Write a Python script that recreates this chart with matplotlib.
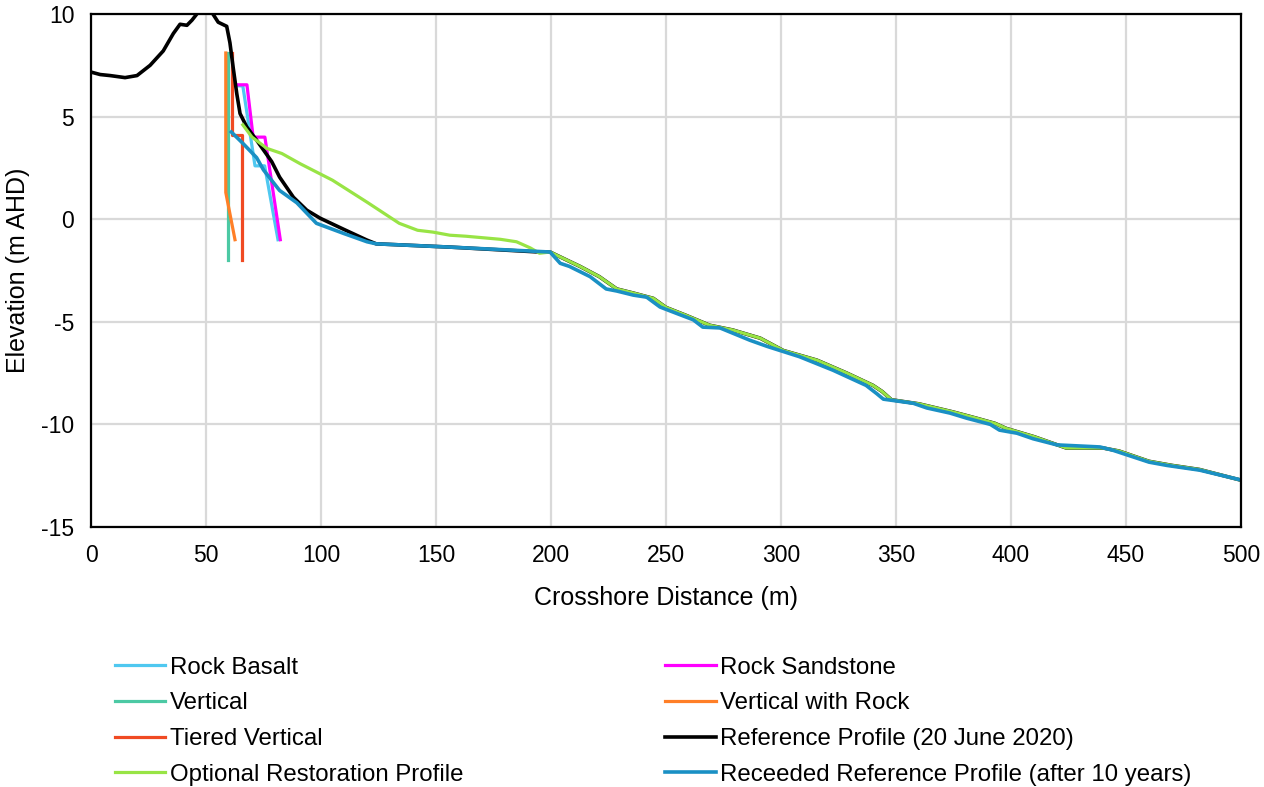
import matplotlib

matplotlib.use("Agg")
import matplotlib.pyplot as plt

plt.rcParams["font.family"] = ["Liberation Sans", "DejaVu Sans"]
plt.rcParams["axes.unicode_minus"] = False

# ---------- Profile data (crosshore distance m, elevation m AHD) ----------
basalt_x = [63.5, 66.0, 71.3, 75.5, 81.3]
basalt_y = [6.5, 6.5, 2.6, 2.6, -1.0]

sandstone_x = [63.4, 67.8, 70.5, 75.6, 82.3]
sandstone_y = [6.55, 6.55, 4.0, 4.0, -1.0]

vertical_x = [59.4, 59.4]
vertical_y = [8.1, -2.0]

vert_rock_x = [58.6, 58.6, 62.6]
vert_rock_y = [8.1, 1.3, -1.0]

tiered_x = [61.3, 61.3, 65.5, 65.5]
tiered_y = [8.1, 4.1, 4.1, -2.0]

# Reference profile (20 June 2020), onshore part
reference_x = [0, 4, 8.3, 14.8, 20, 25.7, 31.4, 35.8, 38.7, 41.7, 43.9, 46, 48, 50, 52,
               53, 55.3, 59, 60.4, 61.8, 63.4, 64.8, 67.7, 72, 78.6, 82, 88, 93.8,
               99.6, 110, 120, 124, 156, 195]
reference_y = [7.17, 7.05, 7.0, 6.9, 7.0, 7.5, 8.2, 9.05, 9.5, 9.45, 9.7, 10.0, 10.4, 10.6, 10.3,
               10.0, 9.6, 9.4, 8.6, 7.4, 6.1, 5.15, 4.5, 3.85, 2.8, 2.05, 1.07, 0.44,
               0.05, -0.5, -1.02, -1.2, -1.36, -1.6]

# Optional restoration profile, onshore part
optional_x = [66, 70, 76.5, 83, 91, 98, 105, 120, 134, 142, 148.7, 156, 163, 178, 185, 191, 195]
optional_y = [4.6, 4.0, 3.45, 3.2, 2.7, 2.3, 1.9, 0.83, -0.2, -0.54, -0.63, -0.78, -0.83,
              -0.98, -1.1, -1.4, -1.66]

# Offshore part shared by the reference and optional restoration profiles
offshore_x = [199.6, 207, 212.6, 221, 228.6, 235.8, 244.5, 250, 259, 269, 279, 291, 301,
              315.6, 328.6, 340, 344, 348, 360, 375, 385, 393, 398, 410, 424, 440, 447,
              460, 470, 482, 500]
offshore_y = [-1.6, -2.0, -2.3, -2.8, -3.4, -3.6, -3.86, -4.3, -4.7, -5.17, -5.4, -5.8, -6.4,
              -6.87, -7.5, -8.1, -8.4, -8.8, -9.0, -9.4, -9.7, -9.95, -10.2, -10.6, -11.15,
              -11.15, -11.3, -11.8, -12.0, -12.2, -12.72]

# Receeded reference profile (after 10 years)
receeded_x = [61, 66, 72, 75, 82, 89.5, 98, 110, 120, 124, 156, 199.6, 204, 208, 217, 224,
              228.6, 235.8, 241.6, 247.4, 254.8, 261.8, 266, 273.5, 286.5, 294, 308, 322.6,
              337, 341.6, 344.5, 357.5, 363.4, 373.5, 380.8, 391, 395, 402.6, 409.6, 420,
              438.7, 444.3, 460, 467.8, 482, 499.6]
receeded_y = [4.25, 3.7, 3.0, 2.4, 1.4, 0.8, -0.2, -0.7, -1.1, -1.2, -1.36, -1.6, -2.15, -2.3,
              -2.8, -3.4, -3.5, -3.7, -3.8, -4.28, -4.6, -4.9, -5.26, -5.3, -5.9, -6.2, -6.7,
              -7.36, -8.1, -8.5, -8.77, -8.97, -9.2, -9.45, -9.7, -10.0, -10.28, -10.43,
              -10.7, -11.0, -11.1, -11.26, -11.84, -12.0, -12.23, -12.7]

x_ticks = [0, 50, 100, 150, 200, 250, 300, 350, 400, 450, 500]
y_ticks = [-15, -10, -5, 0, 5, 10]

# ---------- Plot ----------
fig = plt.figure(figsize=(12.64, 7.87), dpi=100)
ax = fig.add_axes([0.072, 0.3304, 0.9098, 0.6518])

lw = 2.3
h_basalt, = ax.plot(basalt_x, basalt_y, color="#4FC8F0", lw=lw, label="Rock Basalt")
h_sand, = ax.plot(sandstone_x, sandstone_y, color="#FF00FF", lw=lw, label="Rock Sandstone")
h_vert, = ax.plot(vertical_x, vertical_y, color="#4CC9A4", lw=lw, label="Vertical")
h_vrock, = ax.plot(vert_rock_x, vert_rock_y, color="#FF7F27", lw=lw, label="Vertical with Rock")
h_tier, = ax.plot(tiered_x, tiered_y, color="#F04A23", lw=lw, label="Tiered Vertical")
h_ref, = ax.plot(reference_x + offshore_x, reference_y + offshore_y, color="black", lw=lw + 0.3,
                 label="Reference Profile (20 June 2020)")
h_opt, = ax.plot(optional_x + offshore_x, optional_y + offshore_y, color="#98E445", lw=lw,
                 label="Optional Restoration Profile")
h_rec, = ax.plot(receeded_x, receeded_y, color="#1A90C4", lw=lw + 0.3,
                 label="Receeded Reference Profile (after 10 years)")

ax.set_xlim(0, 500)
ax.set_ylim(-15, 10)
ax.set_xticks(x_ticks)
ax.set_yticks(y_ticks)
ax.tick_params(length=0, labelsize=16.5)
ax.tick_params(axis="x", pad=12)
ax.tick_params(axis="y", pad=12)
ax.grid(True, color="#D9D9D9", lw=1.6)
ax.set_axisbelow(True)
for s in ax.spines.values():
    s.set_linewidth(1.6)
    s.set_color("black")

ax.set_xlabel("Crosshore Distance (m)", fontsize=18, labelpad=14)
ax.set_ylabel("Elevation (m AHD)", fontsize=18, labelpad=8)

handles = [h_basalt, h_vert, h_tier, h_opt, h_sand, h_vrock, h_ref, h_rec]
fig.legend(handles=handles, labels=[h.get_label() for h in handles], ncol=2,
           loc="upper left", bbox_to_anchor=(0.083, 0.178), bbox_transform=fig.transFigure,
           frameon=False, fontsize=17.3, handlelength=2.1, handletextpad=0.2,
           columnspacing=8.4, labelspacing=0.57, borderaxespad=0)

fig.savefig("out.png", dpi=100)
